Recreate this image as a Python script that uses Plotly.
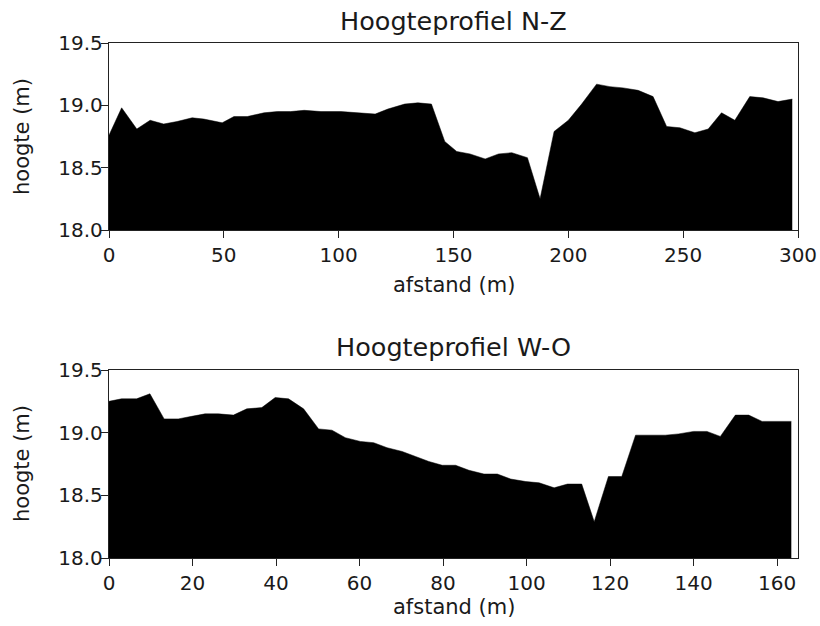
import plotly.graph_objects as go

# Top profile N-Z
nz_afstand = [0, 5.5, 12.1, 17.9, 23.8, 29.6, 36.2, 41.3, 49.3, 54.4, 60.2, 67.5, 73.3, 79.1,
              85.0, 92.3, 101.0, 109.8, 115.9, 121.4, 128.7, 134.5, 140.4, 146.2, 151.4, 157.2,
              163.8, 169.6, 175.4, 182.2, 187.7, 193.8, 200.0, 205.8, 212.3, 218.1, 223.9,
              230.4, 236.9, 242.8, 248.6, 255.1, 260.9, 266.7, 272.5, 279.0, 284.8, 291.3, 297.5]
nz_hoogte = [18.76, 18.98, 18.81, 18.88, 18.85, 18.87, 18.90, 18.89, 18.86, 18.91, 18.91, 18.94,
             18.95, 18.95, 18.96, 18.95, 18.95, 18.94, 18.93, 18.97, 19.01, 19.02, 19.01, 18.71,
             18.63, 18.61, 18.57, 18.61, 18.62, 18.58, 18.25, 18.79, 18.88, 19.01, 19.17, 19.15,
             19.14, 19.12, 19.07, 18.83, 18.82, 18.78, 18.81, 18.94, 18.88, 19.07, 19.06, 19.03, 19.05]

# Bottom profile W-O
wo_afstand = [0, 3.0, 6.6, 9.8, 13.2, 16.6, 19.8, 23.0, 26.2, 29.8, 33.0, 36.6, 39.8, 43.0, 46.6,
              50.2, 53.4, 56.6, 60.2, 63.4, 66.6, 70.2, 73.4, 76.6, 79.8, 83.0, 86.2, 89.8, 93.0,
              96.2, 99.8, 103.0, 106.6, 109.8, 113.2, 116.2, 119.6, 122.8, 126.1, 129.6, 133.2,
              136.4, 140.0, 143.2, 146.4, 150.0, 153.2, 156.4, 160.0, 163.4]
wo_hoogte = [19.25, 19.27, 19.27, 19.31, 19.11, 19.11, 19.13, 19.15, 19.15, 19.14, 19.19, 19.20,
             19.28, 19.27, 19.19, 19.03, 19.02, 18.96, 18.93, 18.92, 18.88, 18.85, 18.81, 18.77,
             18.74, 18.74, 18.70, 18.67, 18.67, 18.63, 18.61, 18.60, 18.56, 18.59, 18.59, 18.29,
             18.65, 18.65, 18.98, 18.98, 18.98, 18.99, 19.01, 19.01, 18.97, 19.14, 19.14, 19.09,
             19.09, 19.09]

titles = ["Hoogteprofiel N-Z", "Hoogteprofiel W-O"]
x_label = "afstand (m)"
y_label = "hoogte (m)"
y_ticks = [18.0, 18.5, 19.0, 19.5]

FONT = "DejaVu Sans"
TXT = "#1a1a1a"

# body margin is removed by the post script, so figure px == viewport px
W, H = 820, 626
LEFT, RIGHT = 109, 798          # axes left/right in px
TOP, BOTTOM = 43, 558           # top of upper axes / bottom of lower axes
ML, MR = LEFT, W - RIGHT
MT, MB = TOP, H - BOTTOM
PW, PH = W - ML - MR, H - MT - MB

def py(p):
    return (BOTTOM - p) / PH

def px(p):
    return (p - LEFT) / PW

fig = go.Figure()
fig.add_trace(go.Scatter(x=nz_afstand, y=nz_hoogte, mode="lines", fill="tozeroy",
                         fillcolor="black", line=dict(color="black", width=0.5),
                         xaxis="x", yaxis="y", showlegend=False, hoverinfo="skip"))
fig.add_trace(go.Scatter(x=wo_afstand, y=wo_hoogte, mode="lines", fill="tozeroy",
                         fillcolor="black", line=dict(color="black", width=0.5),
                         xaxis="x2", yaxis="y2", showlegend=False, hoverinfo="skip"))

axis_common = dict(showline=True, linecolor="#222", linewidth=1.3, mirror=True,
                   ticks="outside", ticklen=7, tickwidth=1.2, tickcolor="#222",
                   showgrid=False, zeroline=False, automargin=False,
                   tickfont=dict(family=FONT, size=20, color=TXT))

fig.update_layout(
    width=W, height=H,
    margin=dict(l=ML, r=MR, t=MT, b=MB, autoexpand=False),
    paper_bgcolor="white", plot_bgcolor="white",
    xaxis=dict(domain=[0, 1], anchor="y", range=[0, 300], tickvals=[0, 50, 100, 150, 200, 250, 300],
               **axis_common),
    yaxis=dict(domain=[py(230), 1], anchor="x", range=[18, 19.5], tickvals=y_ticks,
               tickformat=".1f", ticklabelstandoff=-6, **axis_common),
    xaxis2=dict(domain=[0, 1], anchor="y2", range=[0, 165], tickvals=[0, 20, 40, 60, 80, 100, 120, 140, 160],
                **axis_common),
    yaxis2=dict(domain=[0, py(370)], anchor="x2", range=[18, 19.5], tickvals=y_ticks,
                tickformat=".1f", ticklabelstandoff=-6, **axis_common),
)

ann = []
for t, p in zip(titles, [21, 347]):
    ann.append(dict(text=t, x=0.5, xref="paper", y=py(p), yref="paper", showarrow=False,
                    xanchor="center", yanchor="middle", font=dict(family=FONT, size=25.5, color=TXT)))
for p in [285, 607]:
    ann.append(dict(text=x_label, x=0.5, xref="paper", y=py(p), yref="paper", showarrow=False,
                    xanchor="center", yanchor="middle", font=dict(family=FONT, size=21, color=TXT)))
for p in [137, 464]:
    ann.append(dict(text=y_label, x=px(22), xref="paper", y=py(p), yref="paper", showarrow=False,
                    textangle=-90, xanchor="center", yanchor="middle",
                    font=dict(family=FONT, size=21, color=TXT)))
fig.update_layout(annotations=ann)

fig.write_html("out.html", config={"displayModeBar": False},
               post_script="document.body.style.margin='0';document.body.style.overflow='hidden';")
